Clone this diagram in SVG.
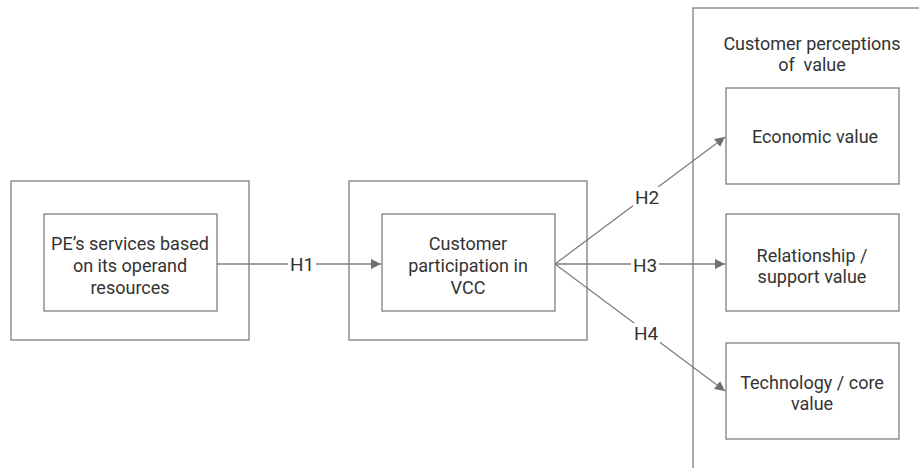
<svg xmlns="http://www.w3.org/2000/svg" width="919" height="468" viewBox="0 0 919 468">
<style>
.box{fill:#fff;stroke:#7f7f7f;stroke-width:1.3}
.t{font-family:Roboto,"Noto Sans","Liberation Sans",sans-serif;font-size:18px;fill:#333;text-anchor:middle;dominant-baseline:central}
.c{stroke:#7f7f7f;stroke-width:1.3;fill:none}
.lbl{font-family:Roboto,"Noto Sans","Liberation Sans",sans-serif;font-size:19px;fill:#333;text-anchor:middle;dominant-baseline:central}
</style>
<defs>
<marker id="ah" viewBox="0 0 10 10" refX="10" refY="5" markerWidth="10" markerHeight="10" markerUnits="userSpaceOnUse" orient="auto">
<path d="M0,0 L10,5 L0,10 z" fill="#6f6f6f"/>
</marker>
</defs>
<rect width="919" height="468" fill="#fff"/>
<g id="outer-pe"><rect class="box" x="11" y="181" width="238" height="159"/></g>
<g id="outer-cp"><rect class="box" x="349" y="181" width="238" height="159"/></g>
<g id="outer-value"><rect class="box" x="693" y="8" width="240" height="470"/>
<text class="t" x="812" y="43">Customer perceptions</text>
<text class="t" x="812" y="64">of&#160; value</text></g>
<g id="connectors">
<line class="c" x1="217" y1="264" x2="381" y2="264" marker-end="url(#ah)"/>
<line class="c" x1="555" y1="264" x2="725" y2="137" marker-end="url(#ah)"/>
<line class="c" x1="555" y1="264" x2="725" y2="264" marker-end="url(#ah)"/>
<line class="c" x1="555" y1="264" x2="725" y2="391" marker-end="url(#ah)"/>
<rect x="288" y="254" width="28" height="20" fill="#fff"/>
<text class="lbl" x="302" y="264">H1</text>
<rect x="633" y="187" width="28" height="20" fill="#fff"/>
<text class="lbl" x="647" y="197">H2</text>
<rect x="631" y="255" width="28" height="20" fill="#fff"/>
<text class="lbl" x="645" y="265">H3</text>
<rect x="632" y="323" width="28" height="20" fill="#fff"/>
<text class="lbl" x="646" y="333">H4</text>
</g>
<g id="pe-services"><rect class="box" x="44" y="214" width="173" height="97"/>
<text class="t" x="130" y="243">PE’s services based</text>
<text class="t" x="130" y="265">on its operand</text>
<text class="t" x="130" y="287">resources</text></g>
<g id="customer-participation"><rect class="box" x="382" y="214" width="173" height="97"/>
<text class="t" x="468" y="243">Customer</text>
<text class="t" x="468" y="265">participation in</text>
<text class="t" x="468" y="287">VCC</text></g>
<g id="economic"><rect class="box" x="726" y="88" width="173" height="96"/>
<text class="t" x="815" y="136">Economic value</text></g>
<g id="relationship"><rect class="box" x="726" y="214" width="173" height="97"/>
<text class="t" x="812" y="255">Relationship /</text>
<text class="t" x="812" y="276">support value</text></g>
<g id="technology"><rect class="box" x="726" y="343" width="173" height="96"/>
<text class="t" x="812" y="382">Technology / core</text>
<text class="t" x="812" y="403">value</text></g>
</svg>
